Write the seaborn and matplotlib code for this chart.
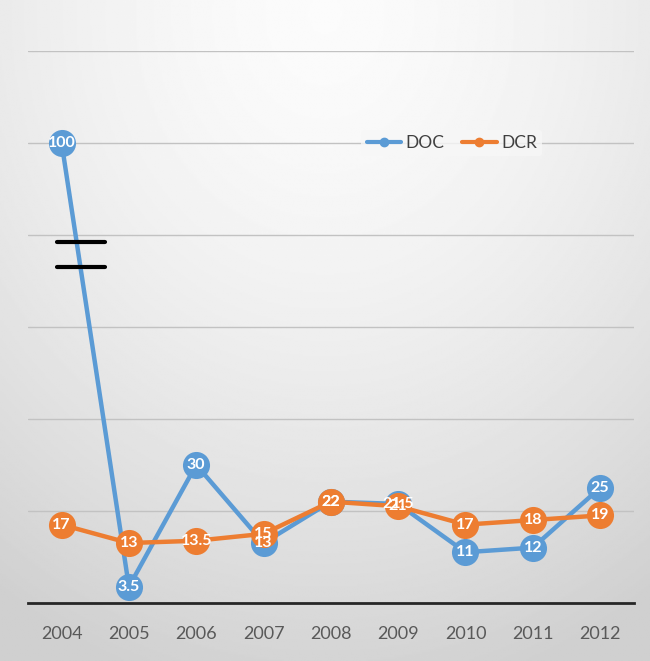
import numpy as np
import pandas as pd
import matplotlib
matplotlib.use("Agg")
import matplotlib.pyplot as plt
import seaborn as sns
from matplotlib.lines import Line2D

years = ["2004", "2005", "2006", "2007", "2008", "2009", "2010", "2011", "2012"]
doc = [100, 3.5, 30, 13, 22, 21.5, 11, 12, 25]
dcr = [17, 13, 13.5, 15, 22, 21, 17, 18, 19]
doc_labels = ["100", "3.5", "30", "13", "22", "21.5", "11", "12", "25"]
dcr_labels = ["17", "13", "13.5", "15", "22", "21", "17", "18", "19"]

BLUE = "#5B9BD5"
ORANGE = "#ED7D31"

sns.set_theme(style="white")
plt.rcParams["font.family"] = ["Lato", "DejaVu Sans"]

fig = plt.figure(figsize=(6.5, 6.61), dpi=100)

# background gradient
bg = fig.add_axes([0, 0, 1, 1], zorder=-10)
yy, xx = np.mgrid[0:1:400j, 0:1:400j]
r = np.sqrt(((xx - 0.5) / 0.9) ** 2 + ((yy - 0.02) / 1.05) ** 2)
val = 0.985 - 0.17 * np.clip(r, 0, 1) ** 1.6
bg.imshow(val, cmap="gray", vmin=0, vmax=1, extent=[0, 1, 1, 0], aspect="auto")
bg.set_xlim(0, 1)
bg.set_ylim(1, 0)
bg.axis("off")

ax = fig.add_axes([0.043, 0.088, 0.932, 0.835])
ax.patch.set_alpha(0)

df = pd.DataFrame({"year": years * 2,
                   "value": doc + dcr,
                   "series": ["DOC"] * len(years) + ["DCR"] * len(years)})
sns.lineplot(data=df, x="year", y="value", hue="series",
             palette={"DOC": BLUE, "DCR": ORANGE}, marker="o",
             markersize=19.5, markeredgewidth=0, linewidth=3.2, ax=ax,
             legend=False, sort=False)

for i, (v, t) in enumerate(zip(doc, doc_labels)):
    ax.text(i, v, t, ha="center", va="center", color="white",
            fontsize=11.5, fontweight="bold", zorder=10)
for i, (v, t) in enumerate(zip(dcr, dcr_labels)):
    ax.text(i, v, t, ha="center", va="center", color="white",
            fontsize=11.5, fontweight="bold", zorder=11)

ax.set_xlim(-0.5, 8.5)
ax.set_ylim(0, 120)
ax.set_yticks(np.arange(20, 121, 20))
ax.yaxis.grid(True, color="#c2c2c2", linewidth=1)
ax.set_axisbelow(True)
ax.tick_params(axis="y", left=False, labelleft=False)
ax.tick_params(axis="x", bottom=False, labelsize=13, labelcolor="#595959", pad=11)
ax.set_xlabel("")
ax.set_ylabel("")
for s in ["top", "right", "left"]:
    ax.spines[s].set_visible(False)
ax.spines["bottom"].set_color("#262626")
ax.spines["bottom"].set_linewidth(2)

# axis-break marks
ax.plot([-0.07, 0.64], [78.5, 78.5], color="black", linewidth=3, zorder=12)
ax.plot([-0.07, 0.64], [73, 73], color="black", linewidth=3, zorder=12)

handles = [Line2D([], [], color=BLUE, marker="o", markersize=6, linewidth=3),
           Line2D([], [], color=ORANGE, marker="o", markersize=6, linewidth=3)]
leg = fig.legend(handles, ["DOC", "DCR"], loc="center", bbox_to_anchor=(0.695, 0.784),
                 ncol=2, frameon=True, fontsize=12.5, handlelength=2.0,
                 columnspacing=1.0, handletextpad=0.25, borderpad=0.3)
leg.get_frame().set_facecolor("#f7f7f7")
leg.get_frame().set_edgecolor("none")
for t in leg.get_texts():
    t.set_color("#404040")

fig.savefig("out.png", dpi=100)
